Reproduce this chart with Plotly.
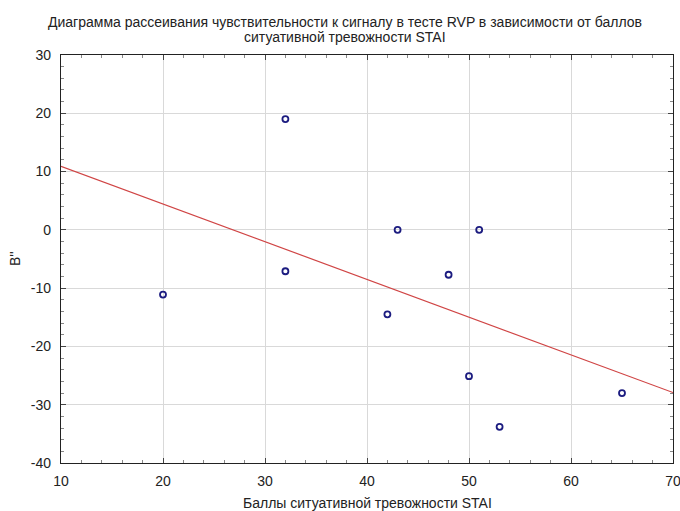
import numpy as np
import plotly.graph_objects as go

# Data
anxiety_scores = [20, 32, 32, 42, 43, 48, 50, 51, 53, 65]
b_values = [-11.1, 19.0, -7.1, -14.5, 0.0, -7.7, -25.1, 0.0, -33.8, -28.0]

x_ticks = [10, 20, 30, 40, 50, 60, 70]
y_ticks = [-40, -30, -20, -10, 0, 10, 20, 30]

title_line1 = "Диаграмма рассеивания чувствительности к сигналу в тесте RVP в зависимости от баллов"
title_line2 = "ситуативной тревожности STAI"
x_title = "Баллы ситуативной тревожности STAI"
y_title = "B''"

# Least-squares regression line
slope, intercept = np.polyfit(anxiety_scores, b_values, 1)
line_x = [x_ticks[0], x_ticks[-1]]
line_y = [slope * v + intercept for v in line_x]

fig = go.Figure()
fig.add_trace(go.Scatter(
    x=line_x, y=line_y, mode="lines",
    line=dict(color="#d04545", width=1.2),
    hoverinfo="skip", showlegend=False,
))
fig.add_trace(go.Scatter(
    x=anxiety_scores, y=b_values, mode="markers",
    marker=dict(symbol="circle-open", size=6, color="#1c1c80",
                line=dict(width=1.8, color="#1c1c80")),
    showlegend=False,
))

font_family = "Liberation Sans, Arial, sans-serif"
txt_color = "#222222"
axis_common = dict(
    showline=True, linecolor="#222222", linewidth=1.2, mirror="allticks",
    showgrid=True, gridcolor="#d9d9d9", gridwidth=1,
    zeroline=False,
    ticks="inside", ticklen=5, tickcolor="#444444",
    tickfont=dict(family=font_family, size=14, color=txt_color),
    minor=dict(dtick=2, ticks="inside", ticklen=3, tickcolor="#888888", showgrid=False),
    ticklabeloverflow="allow",
)

fig.update_xaxes(range=[10, 70], tickvals=x_ticks, ticktext=[str(v) for v in x_ticks],
                 ticklabelstandoff=5, **axis_common)
fig.update_yaxes(range=[-40, 30], tickvals=y_ticks, ticktext=[str(v) for v in y_ticks],
                 ticklabelstandoff=6, **axis_common)

title_font = dict(family=font_family, size=14, color=txt_color)
fig.update_layout(
    width=680, height=511,
    margin=dict(l=61, r=7, t=55, b=48, autoexpand=False),
    paper_bgcolor="white", plot_bgcolor="white",
    font=dict(family=font_family, color=txt_color),
    annotations=[
        dict(text=title_line1, xref="paper", yref="paper", x=0.464, y=1,
             yshift=33.5, xanchor="center", yanchor="middle", showarrow=False,
             font=title_font),
        dict(text=title_line2, xref="paper", yref="paper", x=0.464, y=1,
             yshift=18, xanchor="center", yanchor="middle", showarrow=False,
             font=title_font),
        dict(text=x_title, xref="paper", yref="paper", x=0.5, y=0,
             yshift=-40, xanchor="center", yanchor="middle", showarrow=False,
             font=title_font),
        dict(text=y_title, xref="paper", yref="paper", x=0, y=0.5,
             xshift=-46, xanchor="center", yanchor="middle", showarrow=False,
             textangle=-90, font=title_font),
    ],
)

fig.write_html("out.html", config={"displayModeBar": False},
               post_script="document.body.style.margin='0px';")
